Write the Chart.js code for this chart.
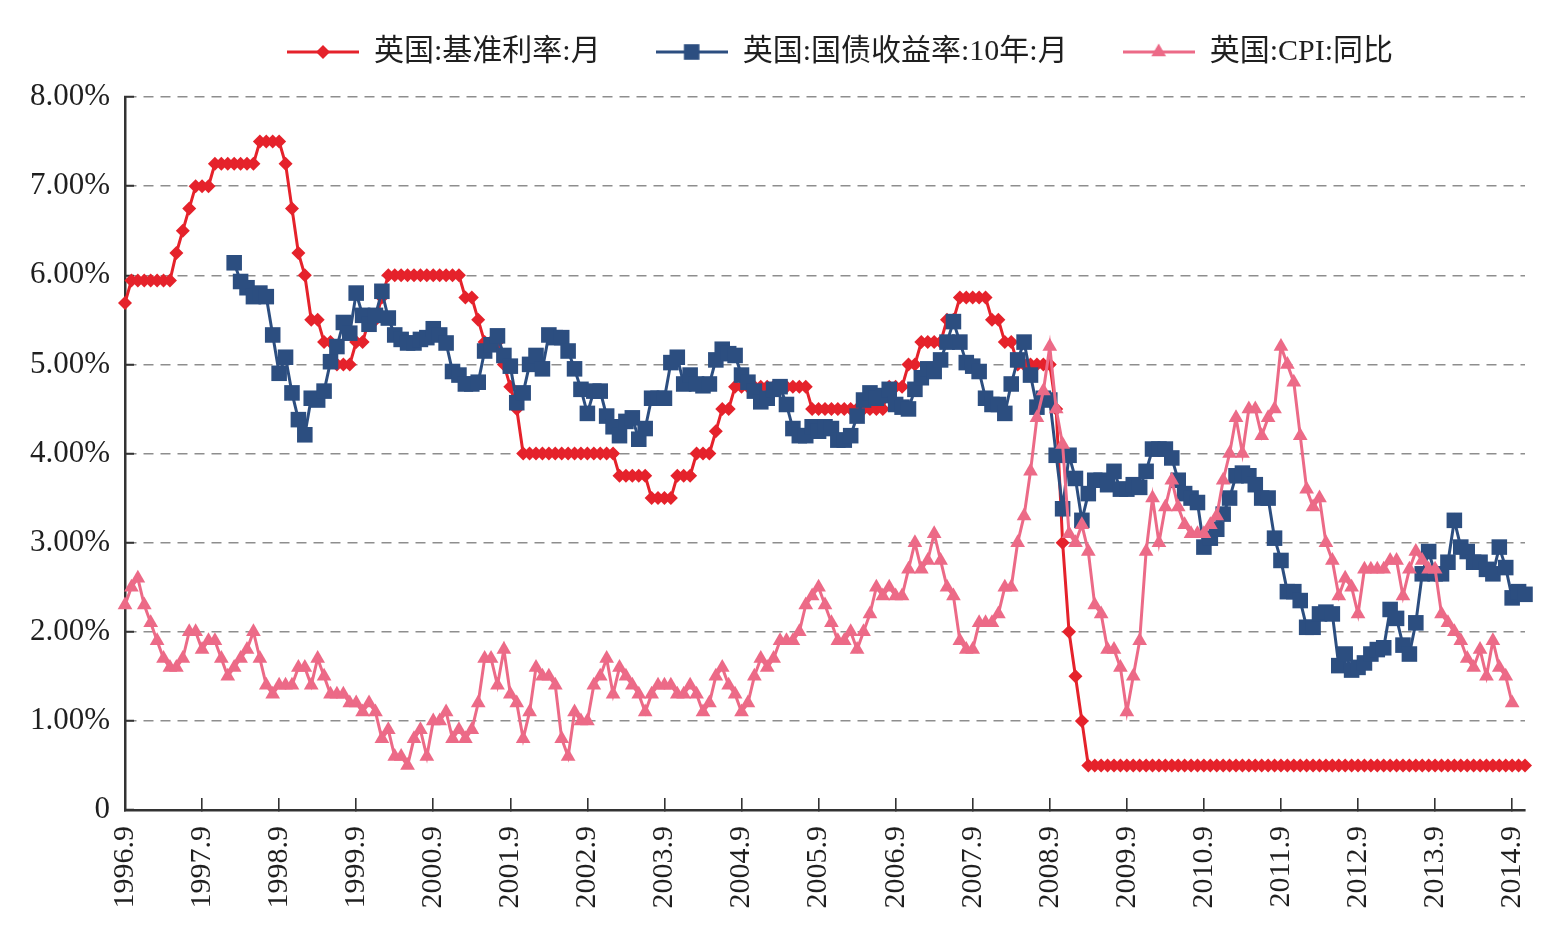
<!DOCTYPE html>
<html><head><meta charset="utf-8">
<script src="https://cdn.jsdelivr.net/npm/chart.js@4.4.1/dist/chart.umd.min.js"></script>
<style>html,body{margin:0;padding:0;background:#fff;} canvas{display:block;}</style>
</head><body>
<canvas id="c" width="1565" height="950"></canvas>
<script>
// ---------------- categories (monthly, 1996.9 - 2014.11) ----------------
const START_YEAR = 1996, START_MONTH = 9, N_MONTHS = 219;
const MONTHS = [];
for (let k = 0; k < N_MONTHS; k++) {
  const t = START_MONTH - 1 + k;
  MONTHS.push((START_YEAR + Math.floor(t / 12)) + '.' + (t % 12 + 1));
}
const TICK_LABELS = ['1996.9','1997.9','1998.9','1999.9','2000.9','2001.9','2002.9','2003.9','2004.9',
  '2005.9','2006.9','2007.9','2008.9','2009.9','2010.9','2011.9','2012.9','2013.9','2014.9'];

const SERIES_NAMES = ['英国:基准利率:月', '英国:国债收益率:10年:月', '英国:CPI:同比'];

// ---------------- series values (%), one row per calendar year ----------------
const BANK_RATE = [
  5.69, 5.94, 5.94, 5.94,                                             // 1996.9-12
  5.94, 5.94, 5.94, 5.94, 6.25, 6.5, 6.75, 7, 7, 7, 7.25, 7.25,       // 1997
  7.25, 7.25, 7.25, 7.25, 7.25, 7.5, 7.5, 7.5, 7.5, 7.25, 6.75, 6.25, // 1998
  6, 5.5, 5.5, 5.25, 5.25, 5, 5, 5, 5.25, 5.25, 5.5, 5.5,             // 1999
  5.75, 6, 6, 6, 6, 6, 6, 6, 6, 6, 6, 6,                              // 2000
  6, 5.75, 5.75, 5.5, 5.25, 5.25, 5.25, 5, 4.75, 4.5, 4, 4,           // 2001
  4, 4, 4, 4, 4, 4, 4, 4, 4, 4, 4, 4,                                 // 2002
  4, 3.75, 3.75, 3.75, 3.75, 3.75, 3.5, 3.5, 3.5, 3.5, 3.75, 3.75,    // 2003
  3.75, 4, 4, 4, 4.25, 4.5, 4.5, 4.75, 4.75, 4.75, 4.75, 4.75,        // 2004
  4.75, 4.75, 4.75, 4.75, 4.75, 4.75, 4.75, 4.5, 4.5, 4.5, 4.5, 4.5,  // 2005
  4.5, 4.5, 4.5, 4.5, 4.5, 4.5, 4.5, 4.75, 4.75, 4.75, 5, 5,          // 2006
  5.25, 5.25, 5.25, 5.25, 5.5, 5.5, 5.75, 5.75, 5.75, 5.75, 5.75, 5.5,// 2007
  5.5, 5.25, 5.25, 5, 5, 5, 5, 5, 5, 4.5, 3, 2,                       // 2008
  1.5, 1, 0.5, 0.5, 0.5, 0.5, 0.5, 0.5, 0.5, 0.5, 0.5, 0.5,           // 2009
  0.5, 0.5, 0.5, 0.5, 0.5, 0.5, 0.5, 0.5, 0.5, 0.5, 0.5, 0.5,         // 2010
  0.5, 0.5, 0.5, 0.5, 0.5, 0.5, 0.5, 0.5, 0.5, 0.5, 0.5, 0.5,         // 2011
  0.5, 0.5, 0.5, 0.5, 0.5, 0.5, 0.5, 0.5, 0.5, 0.5, 0.5, 0.5,         // 2012
  0.5, 0.5, 0.5, 0.5, 0.5, 0.5, 0.5, 0.5, 0.5, 0.5, 0.5, 0.5,         // 2013
  0.5, 0.5, 0.5, 0.5, 0.5, 0.5, 0.5, 0.5, 0.5, 0.5, 0.5               // 2014.1-11
];

const GILT_10Y = [
  null, null, null, null,                                             // 1996.9-12
  null, null, null, null, null, null, null, null, null, null, null, null, // 1997
  null, 6.14, 5.93, 5.86, 5.76, 5.8, 5.76, 5.33, 4.9, 5.08, 4.68, 4.38, // 1998
  4.21, 4.62, 4.6, 4.7, 5.03, 5.2, 5.47, 5.35, 5.8, 5.55, 5.45, 5.55, // 1999
  5.82, 5.52, 5.33, 5.28, 5.24, 5.24, 5.28, 5.3, 5.4, 5.33, 5.24, 4.92, // 2000
  4.88, 4.78, 4.78, 4.8, 5.15, 5.22, 5.32, 5.1, 4.98, 4.57, 4.68, 5.0,  // 2001
  5.1, 4.95, 5.33, 5.3, 5.3, 5.15, 4.95, 4.72, 4.45, 4.7, 4.7, 4.42,  // 2002
  4.3, 4.2, 4.36, 4.4, 4.16, 4.28, 4.62, 4.62, 4.62, 5.02, 5.08, 4.78, // 2003
  4.88, 4.78, 4.76, 4.78, 5.05, 5.17, 5.12, 5.1, 4.88, 4.8, 4.7, 4.58, // 2004
  4.62, 4.72, 4.75, 4.55, 4.28, 4.2, 4.2, 4.3, 4.25, 4.3, 4.28, 4.15, // 2005
  4.15, 4.2, 4.42, 4.6, 4.68, 4.62, 4.65, 4.72, 4.55, 4.52, 4.5, 4.72, // 2006
  4.85, 4.95, 4.92, 5.05, 5.25, 5.48, 5.25, 5.02, 4.98, 4.92, 4.62, 4.55, // 2007
  4.55, 4.45, 4.78, 5.05, 5.25, 4.88, 4.52, 4.62, 4.6, 3.98, 3.38, 3.98, // 2008
  3.72, 3.25, 3.55, 3.7, 3.7, 3.65, 3.8, 3.6, 3.6, 3.65, 3.62, 3.8,   // 2009
  4.05, 4.05, 4.05, 3.95, 3.7, 3.55, 3.5, 3.45, 2.95, 3.05, 3.15, 3.32, // 2010
  3.5, 3.75, 3.78, 3.75, 3.65, 3.5, 3.5, 3.05, 2.8, 2.45, 2.45, 2.35, // 2011
  2.05, 2.05, 2.2, 2.22, 2.2, 1.62, 1.75, 1.57, 1.6, 1.65, 1.75, 1.8, // 2012
  1.82, 2.25, 2.15, 1.85, 1.75, 2.1, 2.65, 2.9, 2.65, 2.65, 2.78, 3.25, // 2013
  2.95, 2.9, 2.78, 2.78, 2.7, 2.65, 2.95, 2.72, 2.38, 2.45, 2.42      // 2014.1-11
];

const CPI_YOY = [
  2.3, 2.5, 2.6, 2.3,                                                 // 1996.9-12
  2.1, 1.9, 1.7, 1.6, 1.6, 1.7, 2.0, 2.0, 1.8, 1.9, 1.9, 1.7,         // 1997
  1.5, 1.6, 1.7, 1.8, 2.0, 1.7, 1.4, 1.3, 1.4, 1.4, 1.4, 1.6,         // 1998
  1.6, 1.4, 1.7, 1.5, 1.3, 1.3, 1.3, 1.2, 1.2, 1.1, 1.2, 1.1,         // 1999
  0.8, 0.9, 0.6, 0.6, 0.5, 0.8, 0.9, 0.6, 1.0, 1.0, 1.1, 0.8,         // 2000
  0.9, 0.8, 0.9, 1.2, 1.7, 1.7, 1.4, 1.8, 1.3, 1.2, 0.8, 1.1,         // 2001
  1.6, 1.5, 1.5, 1.4, 0.8, 0.6, 1.1, 1.0, 1.0, 1.4, 1.5, 1.7,         // 2002
  1.3, 1.6, 1.5, 1.4, 1.3, 1.1, 1.3, 1.4, 1.4, 1.4, 1.3, 1.3,         // 2003
  1.4, 1.3, 1.1, 1.2, 1.5, 1.6, 1.4, 1.3, 1.1, 1.2, 1.5, 1.7,         // 2004
  1.6, 1.7, 1.9, 1.9, 1.9, 2.0, 2.3, 2.4, 2.5, 2.3, 2.1, 1.9,         // 2005
  1.9, 2.0, 1.8, 2.0, 2.2, 2.5, 2.4, 2.5, 2.4, 2.4, 2.7, 3.0,         // 2006
  2.7, 2.8, 3.1, 2.8, 2.5, 2.4, 1.9, 1.8, 1.8, 2.1, 2.1, 2.1,         // 2007
  2.2, 2.5, 2.5, 3.0, 3.3, 3.8, 4.4, 4.7, 5.2, 4.5, 4.1, 3.1,         // 2008
  3.0, 3.2, 2.9, 2.3, 2.2, 1.8, 1.8, 1.6, 1.1, 1.5, 1.9, 2.9,         // 2009
  3.5, 3.0, 3.4, 3.7, 3.4, 3.2, 3.1, 3.1, 3.1, 3.2, 3.3, 3.7,         // 2010
  4.0, 4.4, 4.0, 4.5, 4.5, 4.2, 4.4, 4.5, 5.2, 5.0, 4.8, 4.2,         // 2011
  3.6, 3.4, 3.5, 3.0, 2.8, 2.4, 2.6, 2.5, 2.2, 2.7, 2.7, 2.7,         // 2012
  2.7, 2.8, 2.8, 2.4, 2.7, 2.9, 2.8, 2.7, 2.7, 2.2, 2.1, 2.0,         // 2013
  1.9, 1.7, 1.6, 1.8, 1.5, 1.9, 1.6, 1.5, 1.2, null, null             // 2014.1-11
];

const Y_TICKS = [0, 1, 2, 3, 4, 5, 6, 7, 8];

// ---------------- styles ----------------
const COLORS = ['#E5222B', '#2C4E80', '#EC6A87'];
const POINT_STYLES = ['rectRot', 'rect', 'triangle'];
const POINT_RADII = [7, 11, 8.5];
const FONT_FAMILY = "'Liberation Serif', 'Noto Sans CJK SC', serif";
const TEXT_COLOR = '#1f1f1f';

Chart.defaults.font.family = FONT_FAMILY;
Chart.defaults.color = TEXT_COLOR;

// legend glyph: short line with the series marker in the middle
function makeGlyph(color, style, r) {
  const c = document.createElement('canvas');
  c.width = 72; c.height = 26;
  const g = c.getContext('2d');
  g.strokeStyle = color; g.fillStyle = color; g.lineWidth = 3;
  g.beginPath(); g.moveTo(0, 13); g.lineTo(72, 13); g.stroke();
  Chart.helpers.drawPoint(g, {pointStyle: style, radius: r, borderWidth: 0, rotation: 0}, 36, 13);
  return c;
}
const GLYPHS = COLORS.map((c, i) => makeGlyph(c, POINT_STYLES[i], POINT_RADII[i]));

const layoutTweaks = {
  id: 'layoutTweaks',
  beforeInit(chart) {
    const fit = chart.legend.fit;
    chart.legend.fit = function () { fit.call(this); this.height = 97; };
  },
  afterLayout(chart) {
    const lg = chart.legend;
    lg.left += 15; lg.right += 15;
    lg.top = 37 - 55;
  }
};

function dataset(i, values, order) {
  return {
    label: SERIES_NAMES[i], data: values,
    borderColor: COLORS[i], backgroundColor: COLORS[i],
    pointBackgroundColor: COLORS[i], pointBorderColor: COLORS[i],
    borderWidth: 3, pointStyle: POINT_STYLES[i], pointRadius: POINT_RADII[i],
    pointBorderWidth: 0, pointHoverRadius: POINT_RADII[i], tension: 0,
    spanGaps: false, clip: false, order: order
  };
}

new Chart(document.getElementById('c'), {
  type: 'line',
  data: {
    labels: MONTHS,
    datasets: [dataset(0, BANK_RATE, 3), dataset(1, GILT_10Y, 2), dataset(2, CPI_YOY, 1)]
  },
  options: {
    responsive: false, animation: false, devicePixelRatio: 1,
    layout: { padding: { left: 0, right: 40, top: 0, bottom: 0 } },
    plugins: {
      tooltip: { enabled: false },
      legend: {
        position: 'top', fullSize: false,
        labels: {
          usePointStyle: true, pointStyleWidth: 72, padding: 55,
          font: { size: 30, family: FONT_FAMILY }, color: TEXT_COLOR,
          sort: (a, b) => a.datasetIndex - b.datasetIndex,
          generateLabels(chart) {
            const items = Chart.defaults.plugins.legend.labels.generateLabels(chart);
            items.forEach(it => { it.pointStyle = GLYPHS[it.datasetIndex]; });
            return items;
          }
        }
      }
    },
    scales: {
      x: {
        type: 'category', offset: false,
        afterBuildTicks(scale) {
          scale.ticks = scale.ticks.filter(t => TICK_LABELS.includes(MONTHS[t.value]));
        },
        afterFit(scale) { scale.height = 140; scale.paddingLeft = 0; scale.paddingRight = 0; },
        grid: { display: true, drawOnChartArea: false, drawTicks: true, tickLength: -12,
                color: '#333', lineWidth: 1.6, tickColor: '#333', tickWidth: 1.6 },
        border: { display: true, color: '#333', width: 2.5 },
        ticks: { autoSkip: false, maxRotation: 90, minRotation: 90, padding: 28,
                 font: { size: 30, family: FONT_FAMILY }, color: TEXT_COLOR }
      },
      y: {
        min: 0, max: 8,
        afterBuildTicks(scale) { scale.ticks = Y_TICKS.map(v => ({ value: v })); },
        afterFit(scale) { scale.width = 125; },
        grid: {
          drawTicks: true, tickLength: -9,
          color: ctx => (ctx.tick && ctx.tick.value === 0) ? 'rgba(0,0,0,0)' : '#8e8e8e',
          lineWidth: 1.5,
          tickColor: '#333', tickWidth: 2, tickBorderDash: []
        },
        border: { display: true, color: '#333', width: 2.5, dash: [10, 7] },
        ticks: {
          padding: 24, font: { size: 31, family: FONT_FAMILY }, color: TEXT_COLOR,
          callback: v => v === 0 ? '0' : v.toFixed(2) + '%'
        }
      }
    }
  },
  plugins: [layoutTweaks]
});
</script>
</body></html>
